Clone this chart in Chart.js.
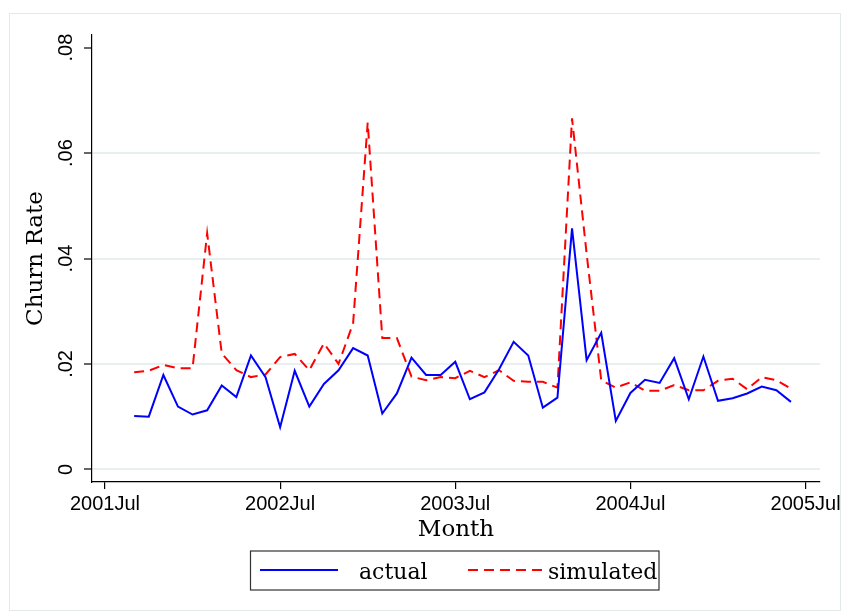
<!DOCTYPE html>
<html>
<head>
<meta charset="utf-8">
<script src="https://cdn.jsdelivr.net/npm/chart.js@4.4.1/dist/chart.umd.min.js"></script>
<style>
  body { margin: 0; background: #ffffff; }
  canvas { display: block; }
</style>
</head>
<body>
<canvas id="churnChart" width="845" height="612"></canvas>
<script>
// Monthly observations (year-month)
const months = [
    "2001-09", "2001-10", "2001-11", "2001-12",
    "2002-01", "2002-02", "2002-03", "2002-04", "2002-05", "2002-06",
    "2002-07", "2002-08", "2002-09", "2002-10", "2002-11", "2002-12",
    "2003-01", "2003-02", "2003-03", "2003-04", "2003-05", "2003-06",
    "2003-07", "2003-08", "2003-09", "2003-10", "2003-11", "2003-12",
    "2004-01", "2004-02", "2004-03", "2004-04", "2004-05", "2004-06",
    "2004-07", "2004-08", "2004-09", "2004-10", "2004-11", "2004-12",
    "2005-01", "2005-02", "2005-03", "2005-04", "2005-05", "2005-06"
];

const actual = [
    0.0101, 0.0100, 0.0179, 0.0119,
    0.0104, 0.0112, 0.0159, 0.0137, 0.0216, 0.0175,
    0.0080, 0.0187, 0.0119, 0.0162, 0.0188, 0.0230,
    0.0216, 0.0106, 0.0144, 0.0212, 0.0179, 0.0179,
    0.0204, 0.0133, 0.0146, 0.0190, 0.0242, 0.0216,
    0.0117, 0.0136, 0.0457, 0.0207, 0.0259, 0.0092,
    0.0145, 0.0170, 0.0164, 0.0211, 0.0133, 0.0214,
    0.0130, 0.0135, 0.0144, 0.0157, 0.0150, 0.0128
];

const simulated = [
    0.0184, 0.0187, 0.0198, 0.0192,
    0.0192, 0.0448, 0.0220, 0.0188, 0.0175, 0.0180,
    0.0213, 0.0219, 0.0188, 0.0239, 0.0200, 0.0277,
    0.0658, 0.0249, 0.0249, 0.0176, 0.0169, 0.0175,
    0.0173, 0.0187, 0.0175, 0.0188, 0.0168, 0.0166,
    0.0166, 0.0155, 0.0666, 0.0409, 0.0169, 0.0155,
    0.0165, 0.0149, 0.0149, 0.0160, 0.0150, 0.0150,
    0.0168, 0.0172, 0.0152, 0.0175, 0.0169, 0.0153
];

// Axis ticks
const xTickLabels = ["2001Jul", "2002Jul", "2003Jul", "2004Jul", "2005Jul"];
const xTickMonths = ["2001-07", "2002-07", "2003-07", "2004-07", "2005-07"];
const yTickValues = [0, 0.02, 0.04, 0.06, 0.08];
const yTickLabels = ["0", ".02", ".04", ".06", ".08"];

// Colors
const COLOR_ACTUAL = "#0000ff";
const COLOR_SIMULATED = "#ff0000";
const COLOR_GRID = "#e8eff1";
const COLOR_FRAME = "#e3e9eb";

// months since 2001 Jul
function monthIndex(ym) {
    const parts = ym.split("-");
    return (parseInt(parts[0]) - 2001) * 12 + (parseInt(parts[1]) - 7);
}

const xTickPos = xTickMonths.map(monthIndex);

function toPoints(values) {
    return months.map((m, i) => ({ x: monthIndex(m), y: values[i] }));
}

// rotated y labels, legend box and outer frame (Stata look)
const stataExtras = {
    id: "stataExtras",
    afterDraw(chart) {
        const ctx = chart.ctx;
        const yScale = chart.scales.y;
        ctx.save();

        // outer frame
        ctx.strokeStyle = COLOR_FRAME;
        ctx.lineWidth = 1;
        ctx.strokeRect(9.5, 13.5, 831, 597);

        // y tick labels, vertical
        ctx.fillStyle = "#000";
        ctx.font = "20px 'Liberation Sans'";
        ctx.textAlign = "center";
        ctx.textBaseline = "alphabetic";
        for (let i = 0; i < yTickValues.length; i++) {
            const y = yScale.getPixelForValue(yTickValues[i]);
            ctx.save();
            ctx.translate(72, y);
            ctx.rotate(-Math.PI / 2);
            ctx.fillText(yTickLabels[i], 0, 0);
            ctx.restore();
        }

        // legend
        const ds = chart.data.datasets;
        ctx.strokeStyle = "#333";
        ctx.lineWidth = 1.2;
        ctx.strokeRect(250.5, 551, 408.5, 39);

        ctx.lineWidth = 2;
        ctx.strokeStyle = ds[0].borderColor;
        ctx.setLineDash([]);
        ctx.beginPath();
        ctx.moveTo(260, 570);
        ctx.lineTo(338, 570);
        ctx.stroke();

        ctx.strokeStyle = ds[1].borderColor;
        ctx.setLineDash(ds[1].borderDash);
        ctx.beginPath();
        ctx.moveTo(468, 570);
        ctx.lineTo(547, 570);
        ctx.stroke();
        ctx.setLineDash([]);

        ctx.fillStyle = "#000";
        ctx.font = "22px 'DejaVu Serif'";
        ctx.textAlign = "left";
        ctx.fillText(ds[0].label, 359, 579);
        ctx.fillText(ds[1].label, 548, 579);

        ctx.restore();
    }
};

const gChurn = new Chart("churnChart", {
    type: "line",
    data: {
        datasets: [{
            label: "actual",
            data: toPoints(actual),
            borderColor: COLOR_ACTUAL,
            backgroundColor: COLOR_ACTUAL,
            borderWidth: 2,
            pointRadius: 0,
            tension: 0,
            fill: false
        },
        {
            label: "simulated",
            data: toPoints(simulated),
            borderColor: COLOR_SIMULATED,
            backgroundColor: COLOR_SIMULATED,
            borderWidth: 2,
            borderDash: [10, 6],
            pointRadius: 0,
            tension: 0,
            fill: false
        }]
    },
    options: {
        responsive: false,
        animation: false,
        layout: {
            padding: { left: 0, top: 35, right: 25, bottom: 0 }
        },
        plugins: {
            legend: { display: false },
            tooltip: { enabled: false }
        },
        scales: {
            x: {
                type: "linear",
                min: -0.89,
                max: 48.99,
                afterBuildTicks: (scale) => {
                    scale.ticks = xTickPos.map(v => ({ value: v }));
                },
                afterFit: (scale) => {
                    scale.height = 130;
                },
                ticks: {
                    callback: (value) => xTickLabels[xTickPos.indexOf(value)],
                    color: "#000",
                    font: { family: "Liberation Sans", size: 20 },
                    maxRotation: 0,
                    autoSkip: false,
                    padding: 3
                },
                grid: {
                    drawOnChartArea: false,
                    tickLength: 7,
                    color: "#000",
                    lineWidth: 1.2
                },
                border: { color: "#000", width: 1.2 },
                title: {
                    display: true,
                    text: "Month",
                    color: "#000",
                    font: { family: "DejaVu Serif", size: 23 },
                    padding: { top: 0, bottom: 68 }
                }
            },
            y: {
                min: -0.0024,
                max: 0.0824,
                afterBuildTicks: (scale) => {
                    scale.ticks = yTickValues.map(v => ({ value: v }));
                },
                afterFit: (scale) => {
                    scale.width = 92;
                },
                ticks: {
                    color: "rgba(0,0,0,0)",
                    font: { family: "Liberation Sans", size: 20 }
                },
                grid: {
                    color: (c) => (c.tick && c.tick.value < 0.07) ? COLOR_GRID : "rgba(0,0,0,0)",
                    lineWidth: 2,
                    tickColor: "#000",
                    tickWidth: 1.2,
                    tickLength: 8
                },
                border: { color: "#000", width: 1.2 },
                title: {
                    display: true,
                    text: "Churn Rate",
                    color: "#000",
                    font: { family: "DejaVu Serif", size: 23 },
                    padding: { top: 22, bottom: 0 }
                }
            }
        }
    },
    plugins: [stataExtras]
});
</script>
</body>
</html>
